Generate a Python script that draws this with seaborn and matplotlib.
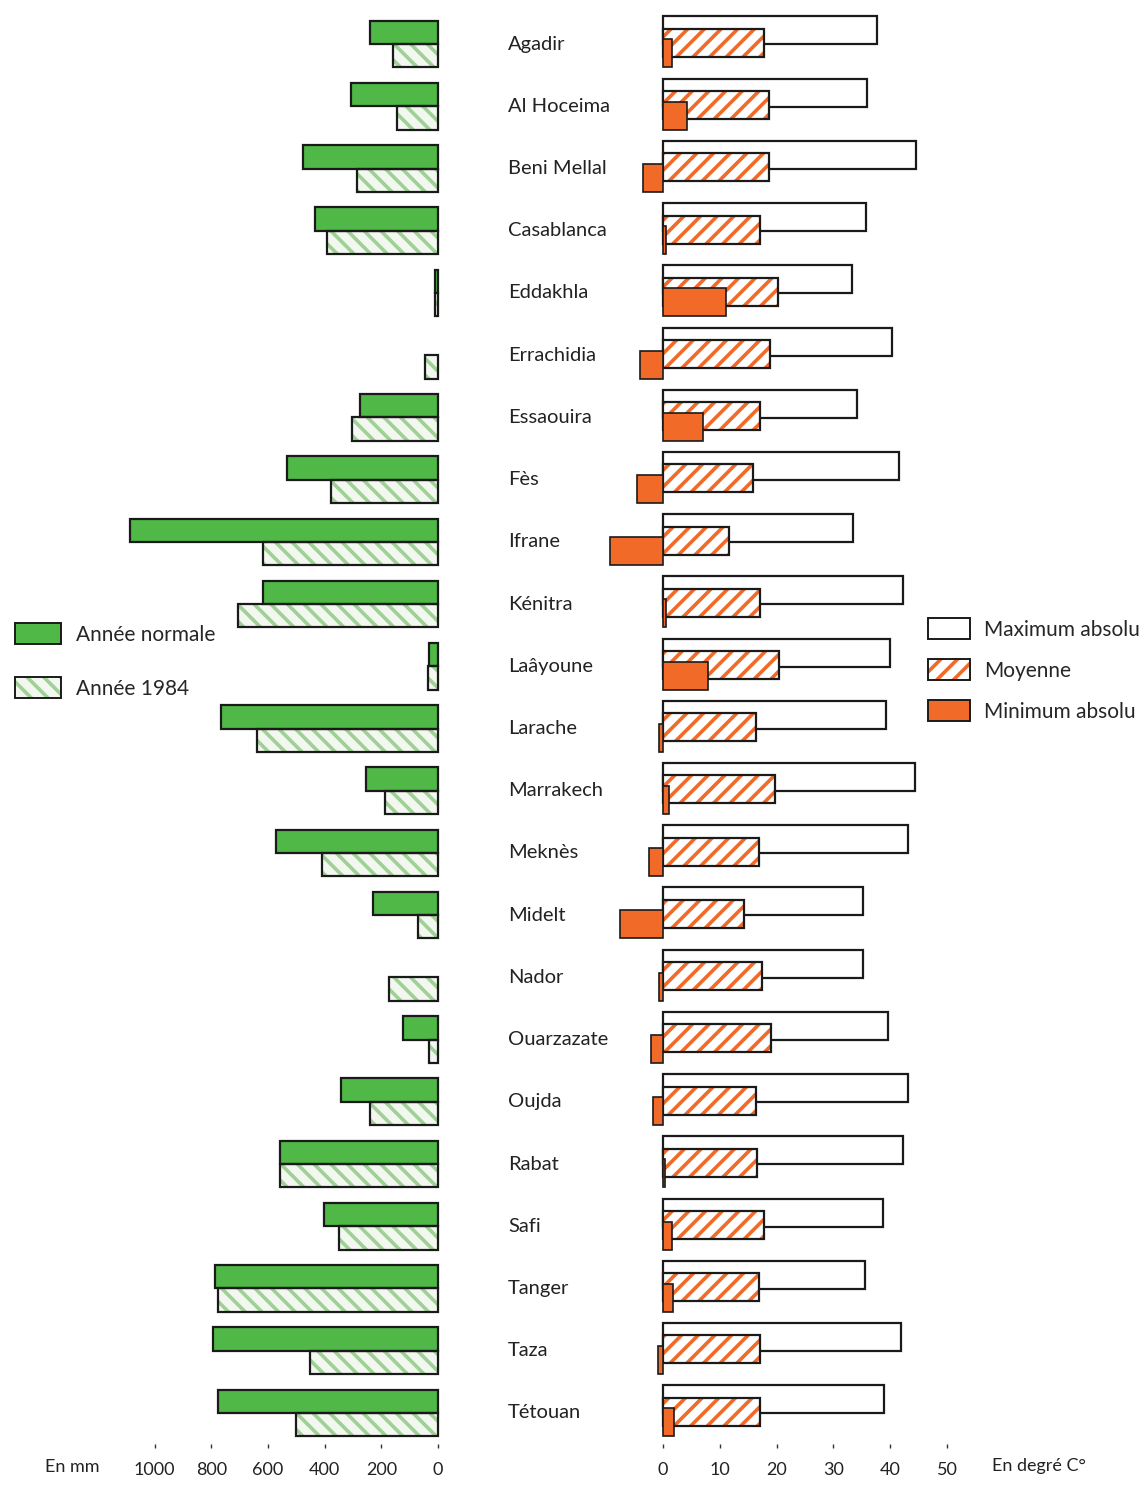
"""Pluviométrie et températures des villes du Maroc."""
import numpy as np
import pandas as pd
import matplotlib.pyplot as plt
import matplotlib.transforms as mtransforms
from matplotlib.colors import to_rgb
from matplotlib.patches import Patch
import seaborn as sns

villes = [
    "Agadir", "Al Hoceima", "Beni Mellal", "Casablanca", "Eddakhla",
    "Errachidia", "Essaouira", "Fès", "Ifrane", "Kénitra", "Laâyoune",
    "Larache", "Marrakech", "Meknès", "Midelt", "Nador", "Ouarzazate",
    "Oujda", "Rabat", "Safi", "Tanger", "Taza", "Tétouan",
]

# précipitations (mm)
pluie_normale = [240, 307, 477, 435, 12, np.nan, 276, 534, 1088, 618, 32,
                 767, 254, 572, 230, np.nan, 124, 343, 558, 403, 788, 792, 777]
pluie_1984 = [159, 145, 286, 392, 12, 46, 304, 378, 618, 707, 35,
              640, 187, 410, 71, 173, 32, 240, 558, 350, 777, 452, 502]

# températures (°C)
temp_max = [37.7, 35.9, 44.5, 35.7, 33.3, 40.3, 34.2, 41.5, 33.5, 42.3, 40.0,
            39.3, 44.4, 43.1, 35.2, 35.2, 39.6, 43.1, 42.3, 38.7, 35.6, 41.9, 38.9]
temp_moy = [17.8, 18.7, 18.7, 17.1, 20.2, 18.8, 17.1, 15.8, 11.6, 17.1, 20.4,
            16.4, 19.7, 16.9, 14.3, 17.4, 19.0, 16.4, 16.5, 17.8, 16.9, 17.1, 17.1]
temp_min = [1.5, 4.2, -3.5, 0.5, 11.1, -4.0, 7.0, -4.6, -9.3, 0.5, 7.9,
            -0.7, 1.1, -2.5, -7.6, -0.7, -2.1, -1.8, 0.4, 1.6, 1.8, -0.9, 2.0]

VERT = "#50b846"
VERT_CLAIR = "#9fd196"
FOND_1984 = "#f2f8ef"
ORANGE = "#f26a28"
TRAIT = "#1a1a1a"

W, H = 1146, 1488

sns.set_theme(style="white")
plt.rcParams["font.family"] = ["Lato", "DejaVu Sans"]
plt.rcParams["hatch.linewidth"] = 2.6

fig = plt.figure(figsize=(W / 100, H / 100), dpi=100)


def px_axes(x0, x1, y0, y1):
    return fig.add_axes([x0 / W, 1 - y1 / H, (x1 - x0) / W, (y1 - y0) / H])


ax_l = px_axes(5, 450, 13, 1444)
ax_r = px_axes(600, 960, 13, 1444)
n = len(villes)

# ---- panneau gauche : précipitations
pluie = pd.DataFrame({
    "ville": villes * 2,
    "mm": pluie_normale + pluie_1984,
    "serie": ["Année normale"] * n + ["Année 1984"] * n,
}).dropna()
ordre_hue = ["Année normale", "Année 1984"]

sns.barplot(data=pluie, y="ville", x="mm", hue="serie", order=villes,
            hue_order=ordre_hue, orient="h", width=0.75, dodge=True,
            palette={"Année normale": VERT, "Année 1984": FOND_1984},
            saturation=1, errorbar=None, linewidth=0, legend=False, ax=ax_l)
for p in ax_l.patches:
    if np.allclose(p.get_facecolor()[:3], to_rgb(FOND_1984), atol=0.02):
        p.set_hatch("\\\\")
        p.set_edgecolor(VERT_CLAIR)
        p.set_linewidth(0)
sns.barplot(data=pluie, y="ville", x="mm", hue="serie", order=villes,
            hue_order=ordre_hue, orient="h", width=0.75, dodge=True,
            palette={"Année normale": TRAIT, "Année 1984": TRAIT},
            fill=False, errorbar=None, linewidth=1.6, legend=False, ax=ax_l)

ax_l.set_xlim((438 - 5) / 0.2835, -(450 - 438) / 0.2835)
ax_l.set_ylim(n - 0.5, -0.5)
ax_l.set_xticks([1000, 800, 600, 400, 200, 0])

# ---- panneau droit : températures
pos = np.arange(n)
sns.barplot(x=temp_max, y=pos - 0.22, orient="h", native_scale=True, width=0.45,
            color="white", edgecolor=TRAIT, linewidth=1.6, errorbar=None, ax=ax_r)
n_avant = len(ax_r.patches)
sns.barplot(x=temp_moy, y=pos - 0.02, orient="h", native_scale=True, width=0.45,
            color="white", errorbar=None, ax=ax_r)
for p in ax_r.patches[n_avant:]:
    p.set_facecolor("white")
    p.set_hatch("//")
    p.set_edgecolor(ORANGE)
    p.set_linewidth(0)
sns.barplot(x=temp_moy, y=pos - 0.02, orient="h", native_scale=True, width=0.45,
            color=TRAIT, fill=False, linewidth=1.6, errorbar=None, ax=ax_r)
sns.barplot(x=temp_min, y=pos + 0.15, orient="h", native_scale=True, width=0.45,
            color=ORANGE, edgecolor=TRAIT, linewidth=1.2, saturation=1,
            errorbar=None, ax=ax_r)

ax_r.set_xlim((600 - 663) / 5.68, (960 - 663) / 5.68)
ax_r.set_ylim(n - 0.5, -0.5)
ax_r.set_xticks([0, 10, 20, 30, 40, 50])

for ax in (ax_l, ax_r):
    sns.despine(ax=ax, left=True, bottom=True)
    ax.set_xlabel("")
    ax.set_ylabel("")
    ax.set_yticks([])
    ax.tick_params(axis="x", bottom=True, length=3, width=1, color="#333333",
                   pad=10, labelsize=13, labelcolor="#222222")
    ax.set_facecolor("none")

# noms des villes
trans = mtransforms.blended_transform_factory(fig.transFigure, ax_l.transData)
for i, v in enumerate(villes):
    ax_l.text(508 / W, i, v, transform=trans, ha="left", va="center",
              fontsize=14.5, color="#222222", clip_on=False)

fig.text(45 / W, 1 - 1467 / H, "En mm", fontsize=13, color="#222222", va="center")
fig.text(992 / W, 1 - 1466 / H, "En degré C°", fontsize=13, color="#222222", va="center")

# légendes
h_normale = Patch(facecolor=VERT, edgecolor=TRAIT, linewidth=1.4)
h_1984 = (Patch(facecolor=FOND_1984, edgecolor=VERT_CLAIR, hatch="\\\\", linewidth=0),
          Patch(facecolor="none", edgecolor=TRAIT, linewidth=1.4))
fig.legend([h_normale, h_1984], ["Année normale", "Année 1984"],
           loc="center left", bbox_to_anchor=(15 / W, 1 - 661 / H),
           frameon=False, fontsize=15, handlelength=2.2, handleheight=1.15,
           handletextpad=0.75, labelspacing=1.55, borderpad=0, borderaxespad=0)

h_max = Patch(facecolor="white", edgecolor=TRAIT, linewidth=1.4)
h_moy = (Patch(facecolor="white", edgecolor=ORANGE, hatch="//", linewidth=0),
         Patch(facecolor="none", edgecolor=TRAIT, linewidth=1.4))
h_min = Patch(facecolor=ORANGE, edgecolor=TRAIT, linewidth=1.4)
fig.legend([h_max, h_moy, h_min], ["Maximum absolu", "Moyenne", "Minimum absolu"],
           loc="center left", bbox_to_anchor=(928 / W, 1 - 670 / H),
           frameon=False, fontsize=15, handlelength=2.0, handleheight=1.15,
           handletextpad=0.7, labelspacing=0.95, borderpad=0, borderaxespad=0)

fig.savefig("out.png", dpi=100)
